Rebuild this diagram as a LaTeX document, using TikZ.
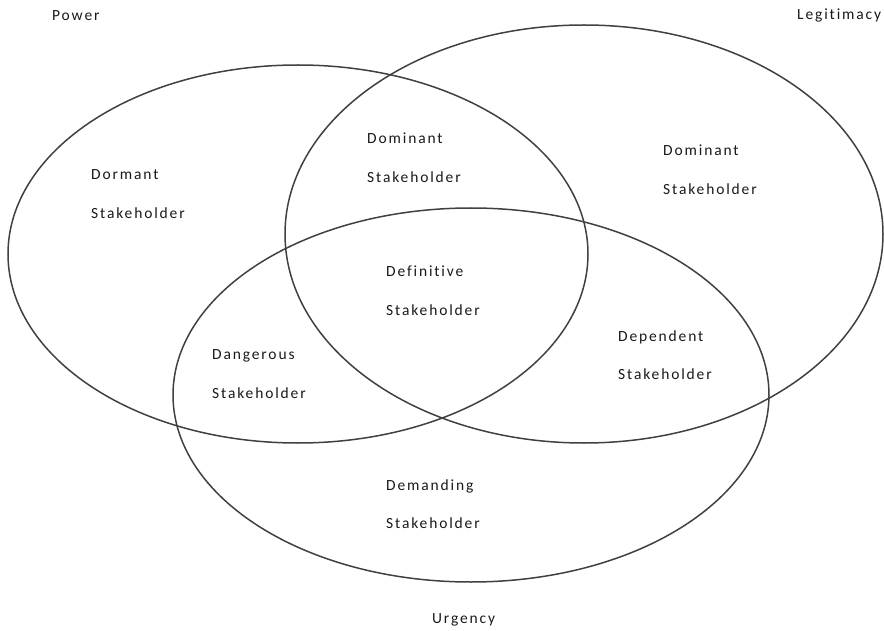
\documentclass[tikz,border=0pt]{standalone}
\usepackage{fontspec}
\setmainfont[LetterSpace=12,Ligatures={NoCommon,NoRare}]{Carlito}
\begin{document}
\begin{tikzpicture}[x=1pt,y=-1pt,
  ring/.style={draw=black!75,line width=1.5pt},
  lbl/.style={anchor=west,align=left,inner sep=0pt,text=black!90,font=\fontsize{15.5}{18.6}\selectfont}]
\useasboundingbox (0,0) rectangle (884,631);
\draw[ring] (298,254) ellipse [x radius=290,y radius=189];
\draw[ring] (584,234) ellipse [x radius=299,y radius=209];
\draw[ring] (471,395) ellipse [x radius=298,y radius=187];
\node[lbl] (power) at (52,16) {Power};
\node[lbl] (legit) at (797,16) {Legitimacy};
\node[lbl] (urgency) at (432,620) {Urgency};
\node[lbl] (dormant) at (91,194) {Dormant\\[20pt]Stakeholder};
\node[lbl] (dominantA) at (367,158) {Dominant\\[20pt]Stakeholder};
\node[lbl] (dominantB) at (663,170) {Dominant\\[20pt]Stakeholder};
\node[lbl] (definitive) at (386,291) {Definitive\\[20pt]Stakeholder};
\node[lbl] (dangerous) at (212,374) {Dangerous\\[20pt]Stakeholder};
\node[lbl] (dependent) at (618,355) {Dependent\\[20pt]Stakeholder};
\node[lbl] (demanding) at (386,504) {Demanding\\[20pt]Stakeholder};
\end{tikzpicture}
\end{document}
